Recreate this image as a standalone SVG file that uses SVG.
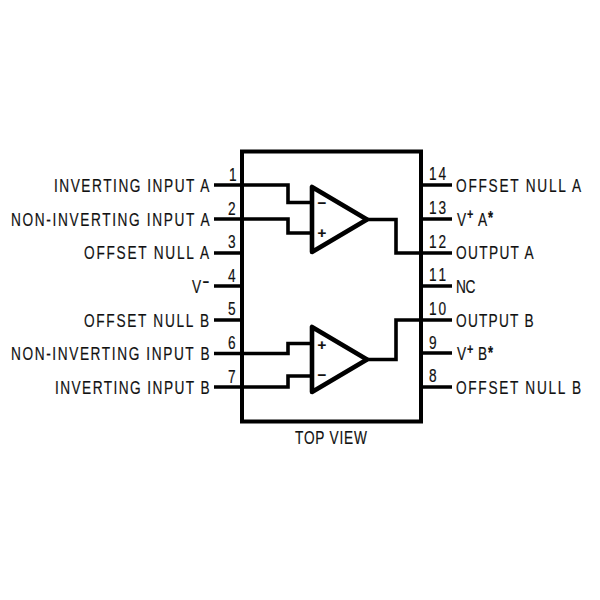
<svg xmlns="http://www.w3.org/2000/svg" width="600" height="600" viewBox="0 0 600 600">
<style>
text{font-family:"Liberation Sans",Arial,sans-serif;font-size:19px;letter-spacing:2.2px;fill:#111;stroke:#111;stroke-width:.2}
.w{fill:none;stroke:#000;stroke-width:4;stroke-linejoin:miter;stroke-linecap:square}
.p{fill:none;stroke:#000;stroke-width:3.6}
.t{fill:#fff;stroke:#000;stroke-width:4.6;stroke-linejoin:round}
.s{font-size:15px;letter-spacing:0;font-weight:bold}
.a{font-size:18px;letter-spacing:0;font-weight:bold}
</style>
<rect width="600" height="600" fill="#fff"/>
<g id="package"><rect class="w" x="242" y="151.500" width="179" height="270"/></g>
<g id="connectors">
<path class="p" d="M214 185H288V202.500H312M214 219H288V233H312M214 253H243M214 286H243M214 320H243M214 353.500H288V343.500H312M214 387H288V376H312M421 185H452M421 219H452M421 253H452M421 286H452M421 320H452M421 353H452M421 387H452"/>
<path class="p" d="M367 219.500H396V253H421M367 359.500H396V320H421"/>
</g>
<g id="opamp-a"><path class="t" d="M312 187V252L367 219.500Z"/><text class="s" x="322" y="208" text-anchor="middle">−</text><text class="s" x="322" y="237.500" text-anchor="middle">+</text></g>
<g id="opamp-b"><path class="t" d="M312 327V392L367 359.500Z"/><text class="s" x="322" y="349.500" text-anchor="middle">+</text><text class="s" x="322" y="380" text-anchor="middle">−</text></g>
<g id="left-pins">
<text transform="translate(229 181) scale(.72 1)">1</text><text transform="translate(54 192) scale(.72 1)" textLength="218" lengthAdjust="spacing">INVERTING INPUT A</text>
<text transform="translate(228 215) scale(.72 1)">2</text><text transform="translate(11 226) scale(.72 1)" textLength="278" lengthAdjust="spacing">NON-INVERTING INPUT A</text>
<text transform="translate(228 248) scale(.72 1)">3</text><text transform="translate(84 259) scale(.72 1)" textLength="176" lengthAdjust="spacing">OFFSET NULL A</text>
<text transform="translate(228 282) scale(.72 1)">4</text><text transform="translate(192 293) scale(.72 1)">V<tspan class="s" x="15" y="-6">−</tspan></text>
<text transform="translate(228 315) scale(.72 1)">5</text><text transform="translate(84 327) scale(.72 1)" textLength="176" lengthAdjust="spacing">OFFSET NULL B</text>
<text transform="translate(228 349) scale(.72 1)">6</text><text transform="translate(11 360) scale(.72 1)" textLength="278" lengthAdjust="spacing">NON-INVERTING INPUT B</text>
<text transform="translate(228 383) scale(.72 1)">7</text><text transform="translate(55 394) scale(.72 1)" textLength="217" lengthAdjust="spacing">INVERTING INPUT B</text>
</g>
<g id="right-pins">
<text transform="translate(429 180) scale(.72 1)" textLength="26" lengthAdjust="spacing">14</text><text transform="translate(456 192) scale(.72 1)" textLength="176" lengthAdjust="spacing">OFFSET NULL A</text>
<text transform="translate(429 214) scale(.72 1)" textLength="26" lengthAdjust="spacing">13</text><text transform="translate(457 226) scale(.72 1)">V<tspan class="s" x="14" y="-7">+</tspan><tspan x="29" y="0">A</tspan><tspan class="a" x="43" y="-2.500">*</tspan></text>
<text transform="translate(429 248) scale(.72 1)" textLength="26" lengthAdjust="spacing">12</text><text transform="translate(456 259) scale(.72 1)" textLength="110" lengthAdjust="spacing">OUTPUT A</text>
<text transform="translate(429 281) scale(.72 1)" textLength="26" lengthAdjust="spacing">11</text><text transform="translate(456 293) scale(.72 1)" textLength="29" lengthAdjust="spacing">NC</text>
<text transform="translate(429 315) scale(.72 1)" textLength="26" lengthAdjust="spacing">10</text><text transform="translate(456 327) scale(.72 1)" textLength="110" lengthAdjust="spacing">OUTPUT B</text>
<text transform="translate(429 349) scale(.72 1)">9</text><text transform="translate(457 360) scale(.72 1)">V<tspan class="s" x="14" y="-6">+</tspan><tspan x="29" y="0">B</tspan><tspan class="a" x="43" y="-1">*</tspan></text>
<text transform="translate(429 382) scale(.72 1)">8</text><text transform="translate(456 394) scale(.72 1)" textLength="176" lengthAdjust="spacing">OFFSET NULL B</text>
</g>
<text id="caption" transform="translate(295 444) scale(.72 1)" textLength="102" lengthAdjust="spacing">TOP VIEW</text>
</svg>
